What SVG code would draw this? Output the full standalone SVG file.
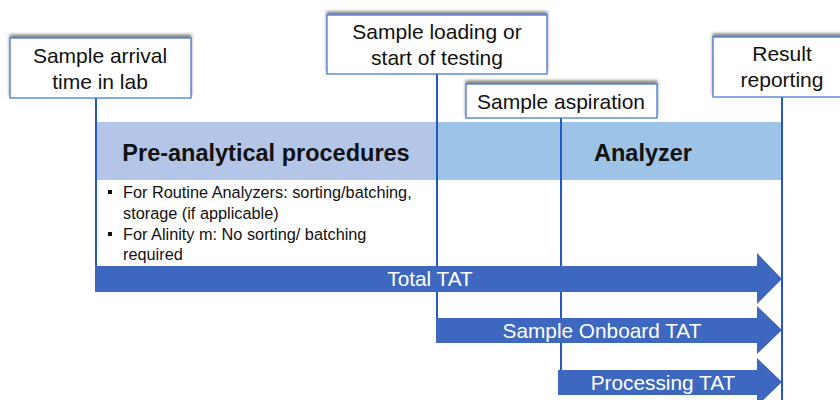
<svg xmlns="http://www.w3.org/2000/svg" width="840" height="400" viewBox="0 0 840 400">
<defs>
<filter id="sh" x="-10%" y="-30%" width="120%" height="160%">
<feDropShadow dx="0" dy="-3" stdDeviation="1.5" flood-color="#555" flood-opacity="0.7"/>
</filter>
<style>
.box{fill:#fff;stroke:#4a7bd6;stroke-width:1.3}
.bt{font-family:"Liberation Sans",Arial,sans-serif;font-size:21px;fill:#111;text-anchor:middle}
.vl{stroke:#2459c4;stroke-width:2;fill:none}
.hd{font-family:"Liberation Sans",Arial,sans-serif;font-size:23.5px;font-weight:bold;fill:#111;text-anchor:middle}
.bl{font-family:"Liberation Sans",Arial,sans-serif;font-size:16.3px;fill:#111}
.arr{fill:#3e67bf}
.at{font-family:"Liberation Sans",Arial,sans-serif;font-size:20.8px;fill:#fff;text-anchor:middle}
</style>
</defs>
<rect width="840" height="400" fill="#fff"/>
<g id="band">
<rect x="96" y="122" width="341" height="58" fill="#b4c6e7"/>
<rect x="437" y="122" width="346" height="58" fill="#9dc3e6"/>
<text class="hd" x="266" y="161">Pre-analytical procedures</text>
<text class="hd" x="643" y="161">Analyzer</text>
</g>
<g id="notes">
<rect x="96" y="180" width="341" height="86" fill="#fff"/>
<rect x="108" y="190" width="4" height="4" fill="#111"/>
<text class="bl" x="123" y="198">For Routine Analyzers: sorting/batching,</text>
<text class="bl" x="123" y="219">storage (if applicable)</text>
<rect x="108" y="232" width="4" height="4" fill="#111"/>
<text class="bl" x="123" y="240">For Alinity m: No sorting/ batching</text>
<text class="bl" x="123" y="260">required</text>
</g>
<g id="connectors">
<line class="vl" x1="96" y1="98" x2="96" y2="292"/>
<line class="vl" x1="437" y1="74" x2="437" y2="330"/>
<line class="vl" x1="561" y1="118" x2="561" y2="382"/>
<line class="vl" x1="782" y1="97" x2="782" y2="400"/>
</g>
<g id="total-tat">
<polygon class="arr" points="95,266 757,266 757,253 782,279 757,304 757,292 95,292"/>
<text class="at" x="430" y="286">Total TAT</text>
</g>
<g id="onboard-tat">
<polygon class="arr" points="436,318 757,318 757,306 782,330 757,354 757,343 436,343"/>
<text class="at" x="602" y="338">Sample Onboard TAT</text>
</g>
<g id="processing-tat">
<polygon class="arr" points="558,370 757,370 757,358 782,382 757,406 757,395 558,395"/>
<text class="at" x="663" y="390">Processing TAT</text>
</g>
<g id="arrival">
<rect class="box" x="10" y="38" width="181" height="60" filter="url(#sh)"/>
<text class="bt" x="100" y="63">Sample arrival</text>
<text class="bt" x="100" y="89">time in lab</text>
</g>
<g id="loading">
<rect class="box" x="327" y="15" width="220" height="59" filter="url(#sh)"/>
<text class="bt" x="437" y="39">Sample loading or</text>
<text class="bt" x="437" y="65">start of testing</text>
</g>
<g id="aspiration">
<rect class="box" x="466" y="84" width="191" height="34" filter="url(#sh)"/>
<text class="bt" x="561" y="109">Sample aspiration</text>
</g>
<g id="reporting">
<rect class="box" x="713" y="37" width="140" height="60" filter="url(#sh)"/>
<text class="bt" x="782" y="61">Result</text>
<text class="bt" x="782" y="87">reporting</text>
</g>
</svg>
